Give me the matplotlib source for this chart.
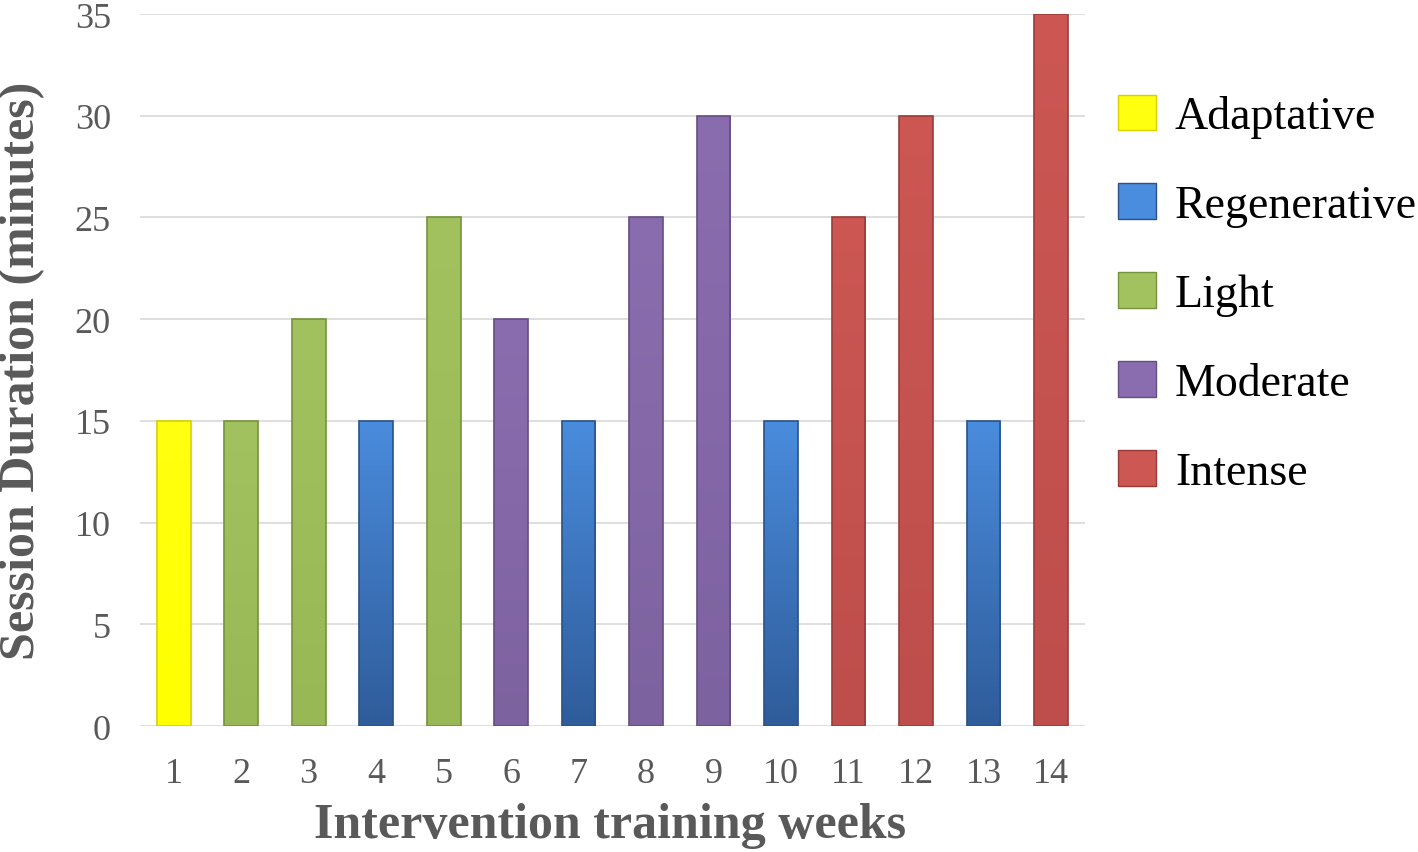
import matplotlib
matplotlib.use('Agg')
import matplotlib.pyplot as plt
import numpy as np
from matplotlib.patches import Patch
from matplotlib.colors import LinearSegmentedColormap

weeks = list(range(1, 15))
durations = [15, 15, 20, 15, 25, 20, 15, 25, 30, 15, 25, 30, 15, 35]
phases = ['Adaptative', 'Light', 'Light', 'Regenerative', 'Light', 'Moderate',
          'Regenerative', 'Moderate', 'Moderate', 'Regenerative', 'Intense',
          'Intense', 'Regenerative', 'Intense']
legend_order = ['Adaptative', 'Regenerative', 'Light', 'Moderate', 'Intense']

# (top colour, bottom colour, edge)
phase_colors = {
    'Adaptative': ('#FFFF10', '#FFFF00', '#D8D000'),
    'Regenerative': ('#4A8CDD', '#2F5C9A', '#2A5288'),
    'Light': ('#A2C25F', '#98B856', '#76923C'),
    'Moderate': ('#8A6DAE', '#7D62A0', '#644E82'),
    'Intense': ('#CC5753', '#BD4E4B', '#9A3C3A'),
}

plt.rcParams['font.family'] = ['Liberation Serif', 'DejaVu Serif']

fig = plt.figure(figsize=(14.18, 8.53), dpi=100)
ax = fig.add_axes([0.0987, 0.1477, 0.6663, 0.8347])

# bars with a vertical gradient, clipped to the bar shape
bars = ax.bar(weeks, durations, width=0.5, color='none', zorder=3)
for b, p in zip(bars, phases):
    top, bot, edge = phase_colors[p]
    cmap = LinearSegmentedColormap.from_list(p, [bot, top])
    x0, w, h = b.get_x(), b.get_width(), b.get_height()
    im = ax.imshow(np.linspace(0, 1, 256).reshape(-1, 1), cmap=cmap, origin='lower',
                   extent=[x0, x0 + w, 0, h], aspect='auto', zorder=3)
    im.set_clip_path(b)
    ax.bar(b.get_x() + w / 2, h, width=w, color='none', edgecolor=edge,
           linewidth=1.2, zorder=4)

ax.set_xlim(0.5, 14.5)
ax.set_ylim(0, 35)
ax.set_yticks(range(0, 36, 5))
ax.set_xticks(weeks)
ax.grid(axis='y', color='#D9D9D9', linewidth=1.2, zorder=0)
ax.set_axisbelow(True)
for s in ax.spines.values():
    s.set_visible(False)
ax.tick_params(length=0, labelsize=26, colors='#595959')
ax.tick_params(axis='x', pad=22)
ax.tick_params(axis='y', pad=21)

ax.set_xlabel('Intervention training weeks', fontsize=36, fontweight='bold',
              color='#595959', va='center')
ax.xaxis.set_label_coords(0.498, -0.139)
ax.set_ylabel('Session Duration (minutes)', fontsize=36, fontweight='bold',
              color='#595959', va='center')
ax.yaxis.set_label_coords(-0.125, 0.5)

handles = [Patch(facecolor=phase_colors[p][0], edgecolor=phase_colors[p][2], label=p)
           for p in legend_order]
fig.legend(handles=handles, loc='upper left', bbox_to_anchor=(0.7885, 0.888),
           frameon=False, fontsize=33, handlelength=0.83, handleheight=0.83,
           labelspacing=0.98, handletextpad=0.41, borderpad=0, borderaxespad=0)

fig.savefig('out.png', dpi=100, facecolor='white')
